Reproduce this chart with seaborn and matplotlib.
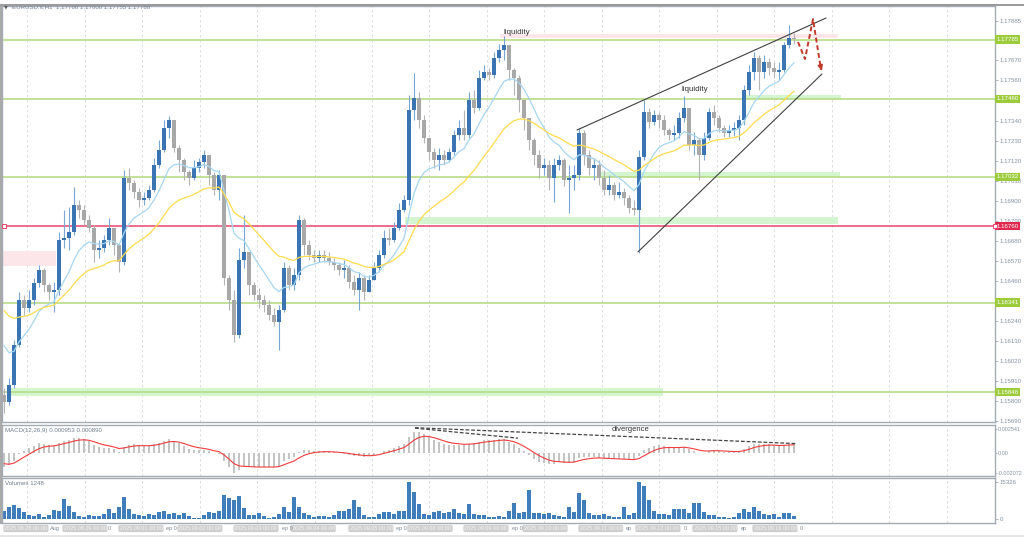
import numpy as np
import pandas as pd
import matplotlib
matplotlib.use("Agg")
import matplotlib.pyplot as plt
import matplotlib.transforms as mtransforms
from matplotlib.patches import Rectangle
import seaborn as sns

# ---- price data (2-hour candles) ----
first_open = 1.15833
closes = [
    1.15795, 1.15888, 1.16108, 1.16355, 1.16311, 1.16355, 1.16448, 1.16520, 1.16437, 1.16399,
    1.16410, 1.16684, 1.16695, 1.16728, 1.16877, 1.16849, 1.16794, 1.16750, 1.16629, 1.16640,
    1.16684, 1.16750, 1.16657, 1.16564, 1.17025, 1.16997, 1.16948, 1.16904, 1.16915, 1.16959,
    1.17096, 1.17179, 1.17299, 1.17343, 1.17189, 1.17124, 1.17058, 1.17025, 1.17080, 1.17113,
    1.17151, 1.17041, 1.16959, 1.17041, 1.16476, 1.16355, 1.16163, 1.16575, 1.16619, 1.16437,
    1.16382, 1.16355, 1.16328, 1.16273, 1.16234, 1.16300, 1.16531, 1.16437, 1.16492, 1.16794,
    1.16657, 1.16602, 1.16586, 1.16602, 1.16586, 1.16564, 1.16547, 1.16520, 1.16531, 1.16454,
    1.16410, 1.16476, 1.16399, 1.16465, 1.16531, 1.16602, 1.16695, 1.16684, 1.16750, 1.16849,
    1.16904, 1.17398, 1.17464, 1.17343, 1.17244, 1.17168, 1.17124, 1.17151, 1.17124, 1.17168,
    1.17261, 1.17299, 1.17261, 1.17453, 1.17409, 1.17574, 1.17607, 1.17590, 1.17684, 1.17728,
    1.17755, 1.17618, 1.17574, 1.17453, 1.17354, 1.17233, 1.17151, 1.17080, 1.17096, 1.17025,
    1.17096, 1.17124, 1.17014, 1.17025, 1.17041, 1.17272, 1.17151, 1.17080, 1.17096, 1.17025,
    1.16959, 1.16986, 1.16931, 1.16948, 1.16915, 1.16860, 1.16849, 1.17140, 1.17387, 1.17332,
    1.17371, 1.17343, 1.17288, 1.17261, 1.17272, 1.17354, 1.17409, 1.17206, 1.17233, 1.17151,
    1.17244, 1.17387, 1.17354, 1.17299, 1.17272, 1.17288, 1.17299, 1.17343, 1.17508, 1.17607,
    1.17684, 1.17607, 1.17662, 1.17629, 1.17607, 1.17618, 1.17755, 1.17793, 1.17788,
]
highs = [
    1.15872, 1.15927, 1.16135, 1.16399, 1.16382, 1.16410, 1.16476, 1.16547, 1.16531, 1.16448,
    1.16454, 1.16728, 1.16849, 1.16866, 1.16975, 1.16904, 1.16877, 1.16822, 1.16767, 1.16684,
    1.16712, 1.16805, 1.16750, 1.16657, 1.17069, 1.17080, 1.17014, 1.16970, 1.16948, 1.16986,
    1.17135, 1.17233, 1.17343, 1.17365, 1.17332, 1.17206, 1.17135, 1.17069, 1.17124, 1.17135,
    1.17179, 1.17151, 1.17058, 1.17069, 1.17041, 1.16492, 1.16410, 1.16640, 1.16822, 1.16602,
    1.16454, 1.16421, 1.16382, 1.16355, 1.16311, 1.16328, 1.16564, 1.16547, 1.16531, 1.16822,
    1.16805, 1.16684, 1.16629, 1.16629, 1.16629, 1.16619, 1.16586, 1.16564, 1.16575, 1.16547,
    1.16492, 1.16509, 1.16492, 1.16492, 1.16564, 1.16629, 1.16740, 1.16750, 1.16783, 1.16888,
    1.16931, 1.17480, 1.17601, 1.17497, 1.17371, 1.17244, 1.17189, 1.17189, 1.17179, 1.17189,
    1.17288, 1.17343, 1.17398, 1.17497, 1.17508, 1.17618, 1.17645, 1.17629, 1.17717, 1.17760,
    1.17804, 1.17755, 1.17629, 1.17590, 1.17453, 1.17343, 1.17244, 1.17179, 1.17135, 1.17124,
    1.17135, 1.17151, 1.17135, 1.17096, 1.17096, 1.17299, 1.17288, 1.17179, 1.17135, 1.17124,
    1.17069, 1.17041, 1.17003, 1.17003, 1.16970, 1.16931, 1.16904, 1.17179, 1.17453, 1.17409,
    1.17398, 1.17387, 1.17371, 1.17299, 1.17316, 1.17387, 1.17475, 1.17409, 1.17277, 1.17244,
    1.17277, 1.17409, 1.17426, 1.17371, 1.17316, 1.17316, 1.17332, 1.17371, 1.17535, 1.17645,
    1.17717, 1.17700, 1.17700, 1.17684, 1.17662, 1.17662, 1.17771, 1.17865, 1.17821,
]
lows = [
    1.15735, 1.15779, 1.15872, 1.16097, 1.16273, 1.16289, 1.16328, 1.16426, 1.16399, 1.16355,
    1.16289, 1.16382, 1.16640, 1.16629, 1.16712, 1.16805, 1.16767, 1.16728, 1.16564, 1.16586,
    1.16619, 1.16657, 1.16602, 1.16509, 1.16547, 1.16959, 1.16915, 1.16866, 1.16877, 1.16904,
    1.16948, 1.17080, 1.17168, 1.17244, 1.17168, 1.17058, 1.17014, 1.16986, 1.17014, 1.17058,
    1.17080, 1.16986, 1.16931, 1.16904, 1.16437, 1.16300, 1.16124, 1.16146, 1.16531, 1.16382,
    1.16355, 1.16311, 1.16289, 1.16245, 1.16212, 1.16080, 1.16289, 1.16410, 1.16410, 1.16465,
    1.16602, 1.16575, 1.16564, 1.16564, 1.16564, 1.16547, 1.16520, 1.16492, 1.16476, 1.16421,
    1.16382, 1.16300, 1.16355, 1.16399, 1.16465, 1.16509, 1.16586, 1.16657, 1.16673, 1.16739,
    1.16838, 1.16877, 1.17343, 1.17299, 1.17217, 1.17124, 1.17080, 1.17069, 1.17096, 1.17113,
    1.17151, 1.17233, 1.17233, 1.17244, 1.17382, 1.17398, 1.17563, 1.17563, 1.17574, 1.17662,
    1.17673, 1.17563, 1.17480, 1.17387, 1.17288, 1.17179, 1.17096, 1.17025, 1.17041, 1.16959,
    1.16893, 1.17069, 1.16981, 1.16833, 1.16959, 1.17014, 1.17096, 1.17041, 1.17014, 1.16986,
    1.16931, 1.16931, 1.16904, 1.16915, 1.16877, 1.16833, 1.16822, 1.16613, 1.17124, 1.17299,
    1.17316, 1.17299, 1.17261, 1.17233, 1.17233, 1.17244, 1.17332, 1.17179, 1.17151, 1.17014,
    1.17124, 1.17233, 1.17316, 1.17277, 1.17250, 1.17250, 1.17255, 1.17233, 1.17316, 1.17480,
    1.17563, 1.17508, 1.17574, 1.17590, 1.17574, 1.17563, 1.17607, 1.17738, 1.17760,
]
volumes = [
    3500, 5000, 5800, 4500, 3000, 1800, 1200, 2000, 900, 1500,
    3700, 3200, 8200, 5500, 3000, 1300, 1000, 1800, 1200, 1400,
    2200, 4000, 2500, 5000, 8900, 4200, 2000, 1500, 1200, 2200,
    1500, 2800, 3400, 2000, 2300, 1800, 2500, 1200, 600, 400,
    1800, 3000, 2600, 3200, 10100, 8500, 8000, 9400, 4500, 1800,
    1500, 2500, 1200, 600, 900, 2200, 4800, 3000, 9000, 5000,
    2500, 1500, 1000, 1400, 1100, 900, 1600, 3500, 3300, 4000,
    7800, 5000, 1500, 1000, 900, 2000, 3000, 2800, 2000, 3500,
    3200, 15300, 11200, 6100, 2000, 1500, 3000, 3200, 2500, 3000,
    4200, 2300, 2000, 6100, 2000, 1500, 1800, 1000, 900, 1200,
    1000, 3500, 6800, 2500, 3000, 11900, 2500, 2300, 2000, 2500,
    1800, 1200, 1000, 4800, 3000, 10800, 8000, 2500, 1800, 1500,
    2000, 1200, 1000, 900, 5000, 1800, 2500, 15300, 13700, 8000,
    3500, 2000, 2200, 1800, 4200, 4000, 4200, 2500, 6800, 6500,
    2800, 1600, 1800, 900, 700, 600, 700, 2500, 4200, 3000,
    4900, 3500, 2000, 1800, 2200, 1000, 2300, 2300, 1200,
]

# indicator starting levels read at the left edge of the chart
fast_ma_seed, slow_ma_seed = 1.16174, 1.16339
macd_fast_seed, macd_slow_seed, macd_signal_seed = 1.15930, 1.16080, -0.0009

levels_green = [1.17785, 1.17460, 1.17032, 1.16341, 1.15848]
level_red = 1.16760
# scale labels that are not hidden behind the level boxes
price_ticks = [1.15690, 1.15800, 1.15910, 1.16020, 1.16130, 1.16240, 1.16460,
               1.16570, 1.16680, 1.16790, 1.16900, 1.17010, 1.17120, 1.17230, 1.17340,
               1.17560, 1.17670, 1.17885]
day_labels = ["2025.08.28 00:00", "2025.08.29 00:00", "2025.09.01 00:00", "2025.09.02 00:00",
              "2025.09.03 00:00", "2025.09.04 00:00", "2025.09.05 00:00", "2025.09.08 00:00",
              "2025.09.09 00:00", "2025.09.10 00:00", "2025.09.11 00:00", "2025.09.12 00:00",
              "2025.09.15 00:00", "2025.09.16 00:00"]
day_px = [3, 62, 118, 177, 233, 290, 348, 407, 463, 522, 578, 635, 692, 752]
frag_px = [49, 107, 165, 281, 395, 511, 625, 683, 740, 799]
frag_txt = ["Aug", "0", "ep 0", "ep 0", "ep 0", "ep 0", "ep", "0", "ep", "0"]


def ema(vals, span, seed):
    a = 2.0 / (span + 1)
    out, v = [], seed
    for x in vals:
        v += a * (x - v)
        out.append(v)
    return np.array(out)


n = len(closes)
idx = np.arange(n)
c = np.array(closes)
o = np.concatenate([[first_open], c[:-1]])
h = np.maximum(np.array(highs), np.maximum(o, c))
l = np.minimum(np.array(lows), np.minimum(o, c))
bull = c >= o

fast_ma = ema(c, 10, fast_ma_seed)
slow_ma = ema(c, 25, slow_ma_seed)
macd = ema(c, 6, macd_fast_seed) - ema(c, 13, macd_slow_seed)
signal = ema(macd, 5, macd_signal_seed)

sns.set_style("white")
plt.rcParams['font.family'] = ['Liberation Sans', 'DejaVu Sans']

W, H = 1024, 537
fig = plt.figure(figsize=(W / 100, H / 100), dpi=100)
fig.patch.set_facecolor('white')


def box(lft, top, rgt, bot):
    return [lft / W, 1 - bot / H, (rgt - lft) / W, (bot - top) / H]


def bx(px):
    # screen x (pixels) -> bar index
    return (px - 4) / 5.0


ax = fig.add_axes(box(2, 6, 995, 422))
axm = fig.add_axes(box(2, 424.5, 995, 476))
axv = fig.add_axes(box(2, 477.5, 995, 523.3))

tick_col = '#8391a0'
for a in (ax, axm, axv):
    a.set_xlim(bx(2), bx(995))
    a.set_facecolor('white')
    for s in a.spines.values():
        s.set_color('#a3abb4')
        s.set_linewidth(1.0)
    a.set_xticks([])
    a.yaxis.tick_right()
    a.tick_params(axis='y', length=2, width=0.6, colors='#a3abb4', labelcolor=tick_col,
                  labelsize=4.4, pad=1.5)
    for k in range(17):
        a.axvline(bx(27.3 + 57.45 * k), color='#d8d8d8', lw=0.6, ls=(0, (3, 3)), zorder=0)

# ---- main price panel ----
ax.set_ylim(1.15685, 1.17969)
ax.set_yticks(price_ticks)
ax.set_yticklabels([f"{t:.5f}" for t in price_ticks])

# zones
ax.add_patch(Rectangle((bx(0), 1.16544), bx(56) - bx(0), 0.00080, fc='#fde6ea', ec='none', zorder=1))
ax.add_patch(Rectangle((bx(500), 1.17792), bx(838) - bx(500), 0.00022, fc='#fde6ea', ec='none', zorder=1))
ax.add_patch(Rectangle((bx(8), 1.15830), bx(663) - bx(8), 0.00044, fc='#d3f5d0', ec='none', zorder=1))
ax.add_patch(Rectangle((bx(405), 1.16774), bx(838) - bx(405), 0.00038, fc='#d3f5d0', ec='none', zorder=1))
ax.add_patch(Rectangle((bx(598), 1.17029), bx(840) - bx(598), 0.00030, fc='#d3f5d0', ec='none', zorder=1))
ax.add_patch(Rectangle((bx(743), 1.17456), bx(841) - bx(743), 0.00024, fc='#d3f5d0', ec='none', zorder=1))

for lv in levels_green:
    ax.axhline(lv, color='#b3d97a', lw=1.1, zorder=2)
ax.axhline(level_red, color='#e8456a', lw=1.1, zorder=2)
ax.plot([bx(4)], [level_red], marker='s', ms=2.2, mfc='white', mec='#e8456a', mew=0.7, zorder=6)

# candles
wick_cols = np.where(bull, '#7aa6d6', '#b4b4b4')
body_cols = np.where(bull, '#3a74b3', '#a8a8a8')
ax.vlines(idx, l, h, colors=wick_cols, lw=0.8, zorder=3)
ax.bar(idx, np.maximum(np.abs(c - o), 0.00002), bottom=np.minimum(o, c), width=0.62,
       color=body_cols, linewidth=0, zorder=4)

sns.lineplot(x=idx, y=fast_ma, ax=ax, color='#a5d6f2', lw=0.9, zorder=5)
sns.lineplot(x=idx, y=slow_ma, ax=ax, color='#ffdb4d', lw=0.9, zorder=5)

# wedge lines and projection
ax.plot([bx(577), bx(826)], [1.17288, 1.17903], color='#404040', lw=0.8, zorder=6)
ax.plot([bx(638), bx(822)], [1.16619, 1.17596], color='#404040', lw=0.8, zorder=6)
ax.plot([bx(798), bx(805), bx(813), bx(821)], [1.17771, 1.17678, 1.17897, 1.17620],
        color='#c0392b', lw=1.4, ls=(0, (2.5, 1.5)), zorder=7)
ax.annotate('', xy=(bx(822.5), 1.17600), xytext=(bx(820.5), 1.17640),
            arrowprops=dict(arrowstyle='-|>', color='#c0392b', lw=1.2, mutation_scale=7), zorder=7)

ax.text(bx(517), 1.17823, 'liquidity', fontsize=5.8, color='#333333', ha='center', va='center', zorder=8)
ax.text(bx(695), 1.17508, 'liquidity', fontsize=5.8, color='#333333', ha='center', va='center', zorder=8)
ax.text(0.002, 0.9976, '\u25bc', transform=ax.transAxes, fontsize=3.6, color='#555555',
        ha='left', va='center', family=['DejaVu Sans'])
ax.text(0.0105, 0.9976, 'EURUSD.s,H1  1.17768 1.17800 1.17755 1.17788', transform=ax.transAxes,
        fontsize=4.4, color='#6f7f90', ha='left', va='center')

# price boxes on the scale
ytr = mtransforms.blended_transform_factory(ax.transAxes, ax.transData)
for lv in levels_green:
    ax.text(1.0015, lv, f"{lv:.5f}", transform=ytr, fontsize=4.4, color='white', ha='left',
            va='center', zorder=10, clip_on=False,
            bbox=dict(boxstyle='square,pad=0.25', fc='#9ccc3c', ec='none'))
ax.text(1.0015, level_red, f"{level_red:.5f}", transform=ytr, fontsize=4.4, color='white', ha='left',
        va='center', zorder=10, clip_on=False,
        bbox=dict(boxstyle='square,pad=0.25', fc='#e0284f', ec='none'))
ax.plot([1.0005], [level_red], transform=ytr, marker='s', ms=2.2, mfc='white', mec='#e8456a',
        mew=0.7, clip_on=False, zorder=11)

# ---- MACD panel ----
axm.set_ylim(-0.00240, 0.00307)
axm.bar(idx, macd, width=0.55, color='#c4c4c4', linewidth=0, zorder=2)
sns.lineplot(x=idx, y=signal, ax=axm, color='#f03c3c', lw=0.8, zorder=3)
axm.set_yticks([-0.002072, 0.0, 0.002541])
axm.set_yticklabels(['-0.002072', '0.00', '0.002541'])
axm.tick_params(axis='y', labelsize=3.9, pad=0.8, length=1.5)
axm.plot([bx(415), bx(797)], [0.00273, 0.00104], color='#444444', lw=0.9, ls=(0, (3, 1.5)), zorder=4)
axm.plot([bx(415), bx(518)], [0.00268, 0.00162], color='#444444', lw=0.9, ls=(0, (3, 1.5)), zorder=4)
axm.text(bx(631), 0.00252, 'divergence', fontsize=5.5, color='#333333', ha='center', va='center')
axm.text(0.003, 0.88, 'MACD(12,26,9) 0.000953 0.000890', transform=axm.transAxes, fontsize=4.4,
         color='#6f7f90', ha='left', va='center')

# ---- volume panel ----
axv.set_ylim(-1770, 17130)
axv.bar(idx, volumes, width=0.62, color='#3f7dbb', linewidth=0, zorder=2)
axv.set_yticks([0, 15326])
axv.set_yticklabels(['0', '15326'])
axv.text(0.003, 0.87, 'Volumes 1248', transform=axv.transAxes, fontsize=4.4,
         color='#6f7f90', ha='left', va='center')

# date labels under the volume panel
dtr = mtransforms.blended_transform_factory(axv.transData, fig.transFigure)
for px, lab in zip(day_px, day_labels):
    axv.text(bx(px + 1.5), 1 - 528.5 / H, lab, transform=dtr, fontsize=4.0, color='#f6f6f6',
             ha='left', va='center', clip_on=False,
             bbox=dict(boxstyle='round,pad=0.2,rounding_size=0.3', fc='#cfcfcf', ec='none'))
for px, t in zip(frag_px, frag_txt):
    axv.text(bx(px + 1), 1 - 528.5 / H, t, transform=dtr, fontsize=4.0, color='#7f8c9a',
             ha='left', va='center', clip_on=False)

# window frame bits
fig.add_artist(Rectangle((0, 1 - 523.5 / H), 2.2 / W, 517.5 / H, transform=fig.transFigure,
                         fc='#a9a9a9', ec='none'))
fig.add_artist(Rectangle((0, 1 - 5.5 / H), 1, 1.2 / H, transform=fig.transFigure,
                         fc='#9a9a9a', ec='none'))
fig.add_artist(Rectangle((0, 0), 1, 2 / H, transform=fig.transFigure, fc='#e6e6e6', ec='none'))

fig.savefig('out.png', dpi=100, facecolor='white')
